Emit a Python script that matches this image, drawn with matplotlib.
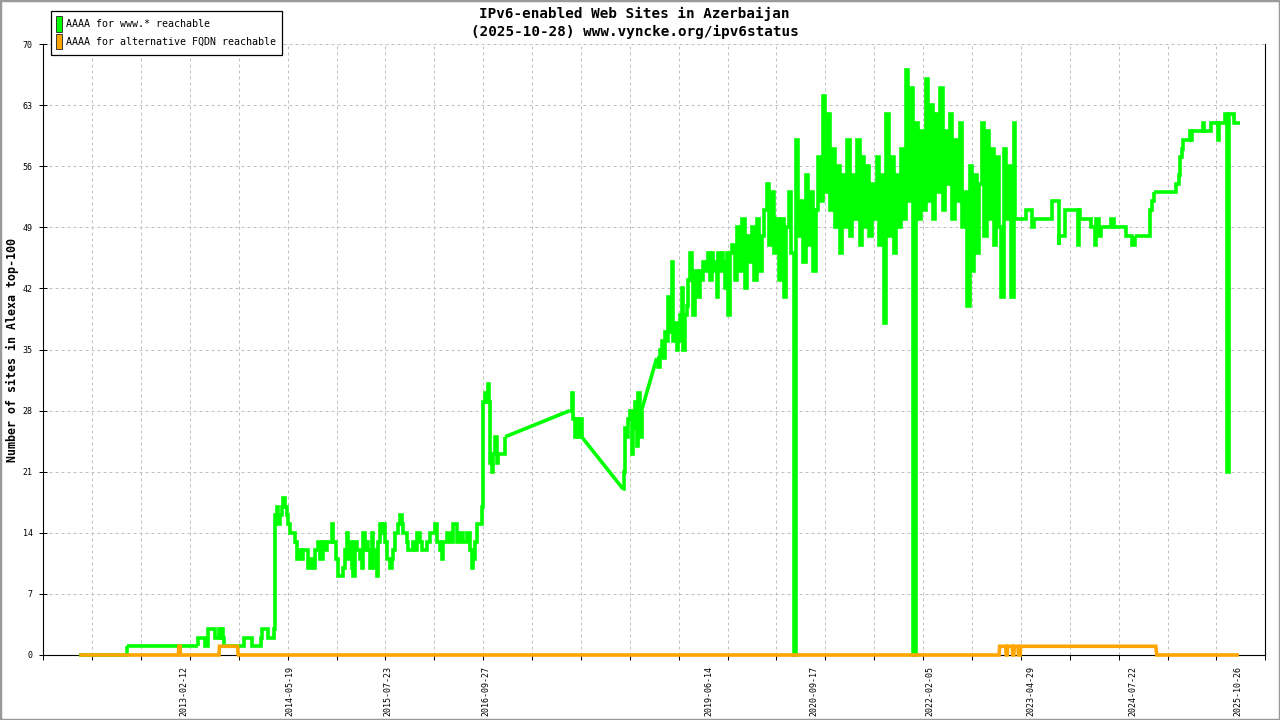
import numpy as np
import matplotlib
matplotlib.use("Agg")
import matplotlib.pyplot as plt
from matplotlib.patches import Patch, Rectangle

# ---------------- data ----------------
title_line1 = "IPv6-enabled Web Sites in Azerbaijan"
title_line2 = "(2025-10-28) www.vyncke.org/ipv6status"
y_label = "Number of sites in Alexa top-100"
series_names = ["AAAA for www.* reachable", "AAAA for alternative FQDN reachable"]
series_colors = ["#00ff00", "#ffa500"]

date_labels = ["2013-02-12", "2014-05-19", "2015-07-23", "2016-09-27", "2019-06-14",
               "2020-09-17", "2022-02-05", "2023-04-29", "2024-07-22", "2025-10-26"]
date_label_pos = [57.7, 100.9, 141.1, 181.0, 272.5, 315.5, 362.6, 404.3, 445.9, 488.8]
y_ticks = [0, 7, 14, 21, 28, 35, 42, 49, 56, 63, 70]

# sample index (x) and value for "www" series, in segments
www_x_a = [14.8, 34.0, 34.3, 63.2, 63.5, 65.8, 66.3, 66.9, 67.3, 69.9, 70.3, 71.7, 72.1, 72.7,
           73.2, 73.6, 74.1, 81.6, 82.0, 84.9, 85.3, 88.7, 89.1, 89.6, 91.4, 91.8, 94.0, 94.3]
www_y_a = [0, 0, 1, 1, 2, 2, 1, 1, 3, 3, 2, 2, 3, 2,
           3, 2, 1, 1, 2, 2, 1, 1, 2, 3, 3, 2, 2, 3]

www_x_b = [94.8, 95.5, 96.2, 96.9, 97.6, 98.3, 99.0, 99.6, 100.3, 101.0,
           102.3, 103.0, 103.7, 104.8, 105.8, 106.4, 107.5, 108.5, 109.4, 110.3,
           111.2, 112.6, 113.3, 114.3, 115.3, 116.0, 117.1, 118.0, 118.7, 119.7,
           120.8, 122.1, 122.8, 123.5, 124.2, 124.8, 125.5, 126.2, 126.9, 127.6,
           128.5, 129.6, 130.3, 131.0, 131.7, 132.4, 133.0, 133.7, 134.4, 135.1,
           135.8, 136.4, 137.1, 137.8, 138.5, 139.2, 139.8, 140.5, 141.9, 142.6,
           143.3, 144.0, 145.3, 146.0, 146.7, 147.3, 148.7, 149.4, 150.8, 151.4,
           152.1, 152.8, 154.2, 154.9, 156.2, 156.9, 158.3, 160.3, 161.0, 162.4,
           163.0, 163.7, 165.1, 166.4, 167.8, 169.2, 170.5, 171.9, 173.3, 174.6,
           175.3, 176.0, 176.7, 177.4, 178.7, 179.4, 180.1, 180.8, 181.4, 182.1,
           182.5, 182.8, 183.5, 184.2, 184.9, 185.5, 186.2, 188.3, 189.0]
www_y_b = [16, 17, 15, 16, 17, 18, 17, 16, 15, 14,
           14, 13, 11, 12, 11, 12, 12, 10, 11, 10,
           12, 13, 11, 13, 12, 13, 13, 15, 13, 11,
           9, 9, 10, 12, 14, 11, 13, 10, 9, 13,
           12, 11, 10, 14, 12, 13, 12, 10, 14, 12,
           10, 9, 13, 15, 14, 15, 13, 11, 10, 11,
           12, 14, 15, 16, 15, 14, 13, 12, 12, 13,
           12, 14, 13, 12, 12, 13, 14, 15, 13, 12,
           11, 13, 14, 13, 15, 13, 14, 13, 14, 12,
           10, 11, 13, 15, 15, 17, 29, 30, 29, 31,
           29, 22, 21, 23, 25, 22, 23, 23, 25]

www_x_c = [215.5, 216.2, 216.9, 217.6, 218.2, 218.9, 219.6, 220.3, 237.3, 237.6,
           238.0, 238.7, 239.4, 240.1, 240.7, 241.4, 242.1, 242.8, 243.4, 244.1, 244.8,
           251.0, 251.7, 252.3, 253.0, 253.7, 254.4, 255.1, 255.8, 256.4, 257.1,
           257.8, 258.5, 259.2, 259.8, 260.5, 261.2, 261.9, 262.6, 263.3, 263.9,
           264.6, 265.3, 266.0, 266.7, 267.3, 268.0, 268.7, 269.4, 270.1, 270.8,
           271.4, 272.1, 272.8, 273.5, 274.2, 274.8, 275.5, 276.2, 276.9, 277.6,
           278.3, 278.9, 279.6, 280.3, 281.0]
www_y_c = [28, 30, 27, 25, 27, 25, 27, 25, 19, 21,
           26, 25, 27, 28, 23, 26, 29, 24, 30, 25, 28,
           34, 33, 35, 36, 34, 37, 36, 41, 37, 45,
           36, 38, 35, 36, 39, 42, 35, 39, 40, 43,
           46, 43, 39, 44, 43, 41, 44, 43, 45, 44,
           45, 46, 43, 46, 44, 45, 41, 46, 44, 46,
           45, 42, 46, 39, 46]

www_dense_start = 282  # one value per index from here
www_dense_vals = [47, 43, 49, 44, 50, 42, 48, 45, 49, 43, 50, 44, 48,
                  51, 54, 47, 53, 46, 50,
                  43, 50, 41, 49,
                  53, 46, 0, 59, 48,
                  52, 45, 55, 47, 53, 44, 51,
                  57, 52, 64, 53, 62, 51, 58,
                  49, 56, 46, 55, 49, 59, 48, 55,
                  50, 59, 47, 57, 49, 56, 48, 54,
                  50, 57, 47, 55, 38, 62, 48, 57, 46, 55, 49,
                  58, 50, 67, 52, 65, 0, 61, 50, 60, 51,
                  66, 52, 63, 50, 62, 53, 65, 51, 60, 54,
                  62, 50, 59, 52, 61, 49,
                  53, 40, 56, 44, 55, 46, 54,
                  61, 48, 60, 50, 58, 47, 57, 49, 41, 58, 50, 56, 41, 61]

www_x_d = [397.5, 401.7, 402.0, 404.3, 404.6, 405.1, 405.4, 412.3, 412.6, 415.0,
           415.4, 415.8, 417.4, 418.1, 422.9, 423.2, 423.6, 424.2, 428.3, 428.6,
           430.2, 430.4, 430.8, 431.8, 432.1, 432.8, 436.5, 436.8, 437.7, 438.0,
           442.7, 443.0, 445.2, 445.5, 446.5, 446.8, 452.2, 452.9, 453.5, 454.3,
           463.1, 463.5, 464.5, 465.1, 465.8, 466.5, 468.5, 469.0, 469.5, 470.2,
           474.5, 474.7, 475.0, 477.4, 477.7, 480.4, 480.7, 481.2, 483.3, 483.6,
           484.3, 484.5, 484.8, 485.0, 486.8, 487.1, 489.7]
www_y_d = [50, 50, 51, 51, 49, 49, 50, 50, 52, 52,
           47, 48, 48, 51, 51, 47, 51, 50, 50, 49,
           49, 47, 50, 50, 48, 49, 49, 50, 50, 49,
           49, 48, 48, 47, 47, 48, 48, 51, 52, 53,
           53, 54, 55, 57, 58, 59, 59, 60, 59, 60,
           60, 61, 60, 60, 61, 61, 59, 61, 61, 62,
           62, 21, 21, 62, 62, 61, 61]

alt_x = [14.8, 55.3, 55.5, 56.0, 56.2, 71.9, 72.1, 79.5, 79.8, 391.1, 391.3, 393.8, 394.0,
         394.4, 394.6, 396.5, 396.7, 397.1, 397.3, 398.8, 399.0, 399.7, 399.9, 455.2, 455.6, 489.2]
alt_y = [0, 0, 1, 1, 0, 0, 1, 1, 0, 0, 1, 1, 0,
         0, 1, 1, 0, 0, 1, 1, 0, 0, 1, 1, 0, 0]

# ---------------- assemble ----------------
www_x = np.concatenate([www_x_a, www_x_b, www_x_c,
                        www_dense_start + np.arange(len(www_dense_vals)), www_x_d])
www_y = np.concatenate([www_y_a, www_y_b, www_y_c, www_dense_vals, www_y_d]).astype(float)

# ---------------- figure ----------------
MONO = "DejaVu Sans Mono"
plt.rcParams["font.family"] = MONO
fig = plt.figure(figsize=(12.8, 7.2), dpi=100)
ax = fig.add_axes([43.2 / 1280, 65 / 720, 1222.1 / 1280, 611 / 720])

line_kw = dict(lw=2.6, clip_on=False, solid_joinstyle="miter", solid_capstyle="butt")

# samples with missing data in between are joined by straight lines,
# consecutive samples are drawn as steps
gap = np.diff(www_x) > 5
start = 0
for i in range(len(www_x) - 1):
    if gap[i]:
        ax.plot(www_x[start:i + 1], www_y[start:i + 1], color=series_colors[0],
                drawstyle="steps-post", zorder=3, **line_kw)
        ax.plot(www_x[i:i + 2], www_y[i:i + 2], color=series_colors[0], zorder=3, **line_kw)
        start = i + 1
ax.plot(www_x[start:], www_y[start:], color=series_colors[0],
        drawstyle="steps-post", zorder=3, **line_kw)

ax.plot(alt_x, alt_y, color=series_colors[1], zorder=4, **line_kw)

ax.set_xlim(0, 500)
ax.set_ylim(0, 70)

grid_kw = dict(color="#c0c0c0", linestyle=(0, (3, 3)), linewidth=0.72)
ax.set_xticks(np.arange(0, 501, 20), minor=True)
ax.set_xticks(date_label_pos)
ax.set_xticklabels(date_labels, rotation=90, fontsize=6)
ax.tick_params(axis="x", which="major", length=0, pad=8.2)
ax.tick_params(axis="x", which="minor", length=3.6, width=0.72, direction="out", color="black")
ax.xaxis.grid(True, which="minor", **grid_kw)
ax.xaxis.grid(False, which="major")

ax.set_yticks(y_ticks)
ax.set_yticklabels([str(v) for v in y_ticks], fontsize=6)
ax.tick_params(axis="y", which="major", direction="inout", length=6, width=0.72, pad=4.5)
ax.yaxis.grid(True, which="major", **grid_kw)
ax.set_axisbelow(True)

ax.spines["top"].set_visible(False)
for s in ("left", "right", "bottom"):
    ax.spines[s].set_linewidth(0.8)
    ax.spines[s].set_color("black")

# titles and y label
fig.text(634 / 1280, 1 - 14 / 720, title_line1, ha="center", va="center", fontsize=10.3,
         fontweight="bold")
fig.text(635 / 1280, 1 - 32.3 / 720, title_line2, ha="center", va="center", fontsize=10.3,
         fontweight="bold")
fig.text(12.3 / 1280, 1 - 350 / 720, y_label, rotation=90, ha="center", va="center",
         fontsize=8.4, fontweight="bold")

# legend
handles = [Patch(facecolor=c, edgecolor="#222222", linewidth=0.6) for c in series_colors]
leg = fig.legend(handles, series_names, loc="upper left",
                 bbox_to_anchor=(50.7 / 1280, 1 - 10.7 / 720), bbox_transform=fig.transFigure,
                 borderaxespad=0, fontsize=7.2, handlelength=0.53, handleheight=2.0,
                 handletextpad=0.5, borderpad=0.55, labelspacing=0.2,
                 fancybox=False, framealpha=1, edgecolor="black")
leg.get_frame().set_linewidth(0.9)

# outer border
fig.add_artist(Rectangle((0, 0), 1, 1, transform=fig.transFigure, fill=False,
                         edgecolor="#999999", linewidth=2.5))

fig.savefig("out.png", dpi=100)
